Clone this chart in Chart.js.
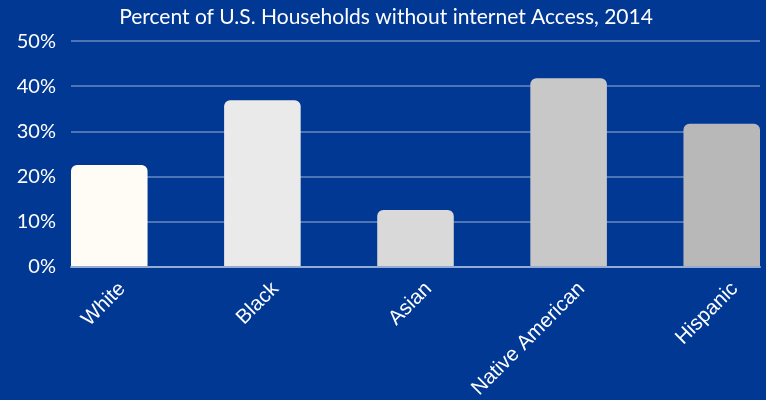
<!DOCTYPE html>
<html>
<head>
<meta charset="utf-8">
<script src="https://cdn.jsdelivr.net/npm/chart.js@4"></script>
<style>
  html, body { margin: 0; padding: 0; background: #003894; }
  #wrap { width: 766px; height: 400px; position: relative; }
</style>
</head>
<body>
<div id="wrap"><canvas id="chart"></canvas></div>
<script>
const categories = ["White", "Black", "Asian", "Native American", "Hispanic"];
const values = [22.6, 36.9, 12.6, 41.8, 31.7]; // percent
const barColors = ["#fffcf5", "#eaeaea", "#d9d9d9", "#c8c8c8", "#b8b8b8"];
const yTicks = [0, 10, 20, 30, 40, 50];

const ctx = document.getElementById("chart").getContext("2d");

new Chart(ctx, {
  type: "bar",
  data: {
    datasets: [
      {
        data: values.map((v, i) => ({ x: i, y: v })),
        backgroundColor: barColors,
        borderRadius: { topLeft: 6, topRight: 6 },
        borderSkipped: "bottom",
        categoryPercentage: 0.5,
        barPercentage: 1,
      },
    ],
  },
  options: {
    responsive: true,
    maintainAspectRatio: false,
    animation: false,
    layout: { padding: { left: 12, right: 6, top: 0, bottom: 0 } },
    plugins: {
      legend: { display: false },
      tooltip: { enabled: false },
      title: {
        display: true,
        text: "Percent of U.S. Households without internet Access, 2014",
        color: "#ffffff",
        font: { family: "Lato", size: 21, weight: "normal" },
        padding: { top: 5, bottom: 11 },
      },
    },
    scales: {
      x: {
        type: "linear",
        min: -0.25,
        max: 4.25,
        offset: false,
        z: 1,
        afterBuildTicks: (scale) => {
          scale.ticks = categories.map((_, i) => ({ value: i }));
        },
        afterFit: (scale) => {
          // rotated labels: keep the plot where the original had it
          scale.paddingLeft = 0;
          scale.paddingRight = 0;
          scale.height = 133;
        },
        grid: { display: false, drawTicks: false },
        border: { display: true, color: "rgba(255,255,255,0.4)", width: 2 },
        ticks: {
          color: "#ffffff",
          font: { family: "Liberation Sans", size: 20.5 },
          maxRotation: 45,
          minRotation: 45,
          labelOffset: 13,
          padding: 10,
          callback: (v) => categories[v] ?? "",
        },
      },
      y: {
        min: 0,
        max: 50,
        afterBuildTicks: (scale) => {
          scale.ticks = yTicks.map((v) => ({ value: v }));
        },
        afterFit: (scale) => {
          scale.width = 59;
        },
        grid: { color: "rgba(255,255,255,0.3)", lineWidth: 2, drawTicks: false },
        border: { display: false },
        ticks: {
          color: "#ffffff",
          font: { family: "Lato", size: 20 },
          padding: 15,
          callback: (v) => v + "%",
        },
      },
    },
  },
});
</script>
</body>
</html>
